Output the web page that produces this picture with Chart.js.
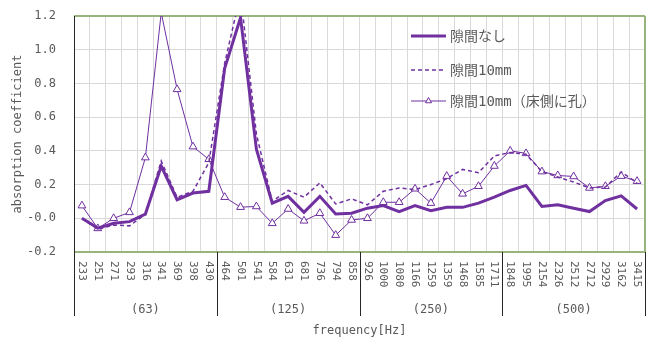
<!DOCTYPE html>
<html>
<head>
<meta charset="utf-8">
<script src="https://cdn.jsdelivr.net/npm/chart.js@4/dist/chart.umd.min.js"></script>
<style>
  body { margin: 0; background: #fff; }
  #wrap { width: 653px; height: 341px; position: relative; }
</style>
</head>
<body>
<div id="wrap"><canvas id="absChart"></canvas></div>
<script>
const freqs = ["233","251","271","293","316","341","369","398","430",
  "464","501","541","584","631","681","736","794","858",
  "926","1000","1080","1166","1259","1359","1468","1585","1711",
  "1848","1995","2154","2326","2512","2712","2929","3162","3415"];
const bands = ["(63)", "(125)", "(250)", "(500)"];
const seriesNames = ["隙間なし", "隙間10mm", "隙間10mm（床側に孔）"];

const noGap = [0.00,-0.058,-0.03,-0.02,0.025,0.31,0.11,0.15,0.16,
  0.89,1.19,0.41,0.09,0.13,0.035,0.13,0.025,0.03,
  0.06,0.075,0.04,0.075,0.045,0.065,0.065,0.09,0.125,
  0.165,0.195,0.07,0.08,0.06,0.04,0.105,0.133,0.055];
const gap10 = [0.00,-0.065,-0.04,-0.045,0.025,0.34,0.125,0.16,0.33,
  0.92,1.33,0.50,0.10,0.165,0.125,0.21,0.085,0.115,
  0.08,0.16,0.18,0.17,0.20,0.235,0.29,0.27,0.37,
  0.39,0.38,0.277,0.245,0.215,0.18,0.185,0.275,0.21];
const gap10Hole = [0.075,-0.06,0.0,0.035,0.36,1.22,0.765,0.425,0.35,
  0.125,0.066,0.07,-0.03,0.055,-0.015,0.03,-0.10,-0.01,
  0.0,0.095,0.095,0.175,0.09,0.25,0.145,0.19,0.31,
  0.40,0.385,0.277,0.254,0.248,0.18,0.19,0.25,0.22];

const purple = "#7030A0";
const textGrey = "#595959";
const mono = '"DejaVu Sans Mono", "Noto Sans CJK JP", monospace';

const frame = {
  id: "frame",
  beforeDatasetsDraw(chart) {
    const { ctx, chartArea: a } = chart;
    ctx.save();
    ctx.strokeStyle = "#98b47c";
    ctx.lineWidth = 2;
    ctx.beginPath();
    ctx.moveTo(a.left, a.top); ctx.lineTo(a.right, a.top);
    ctx.moveTo(a.left, a.bottom); ctx.lineTo(a.right, a.bottom);
    ctx.moveTo(a.right, a.top); ctx.lineTo(a.right, a.bottom);
    ctx.stroke();
    ctx.restore();
  },
  afterDraw(chart) {
    const { ctx, chartArea: a, scales: { x } } = chart;
    ctx.save();

    // group dividers + left axis
    const edges = [a.left];
    for (let g = 1; g < bands.length; g++) {
      edges.push((x.getPixelForValue(g * 9 - 1) + x.getPixelForValue(g * 9)) / 2);
    }
    edges.push(a.right);
    ctx.strokeStyle = "#262626";
    ctx.lineWidth = 1;
    ctx.beginPath();
    edges.forEach((ex, k) => {
      const px = Math.round(ex) + 0.5;
      ctx.moveTo(px, k === 0 ? a.top : a.bottom);
      ctx.lineTo(px, 316);
    });
    ctx.stroke();

    // rotated frequency labels
    ctx.fillStyle = textGrey;
    ctx.font = "11px " + mono;
    ctx.textAlign = "left";
    ctx.textBaseline = "middle";
    freqs.forEach((f, i) => {
      ctx.save();
      ctx.translate(x.getPixelForValue(i), 261);
      ctx.rotate(Math.PI / 2);
      ctx.fillText(f, 0, 0);
      ctx.restore();
    });

    // octave band labels
    ctx.font = "12px " + mono;
    ctx.textAlign = "center";
    bands.forEach((b, g) => {
      const cx = (edges[g] + edges[g + 1]) / 2;
      ctx.fillText(b, cx, 310);
    });
    ctx.fillText("frequency[Hz]", (a.left + a.right) / 2, 331);

    // legend inside the plot
    const rows = [36, 70, 101];
    chart.data.datasets.forEach((ds, i) => {
      const y = rows[i];
      ctx.strokeStyle = ds.borderColor;
      ctx.lineWidth = ds.borderWidth;
      ctx.setLineDash(ds.borderDash || []);
      ctx.beginPath();
      ctx.moveTo(411, y); ctx.lineTo(446, y);
      ctx.stroke();
      ctx.setLineDash([]);
      if (ds.pointRadius > 0) {
        ctx.fillStyle = ds.pointBackgroundColor;
        ctx.strokeStyle = ds.pointBorderColor;
        ctx.lineWidth = 1;
        Chart.helpers.drawPoint(ctx, { pointStyle: ds.pointStyle, radius: 3.5, borderWidth: 1, rotation: 0 }, 428.5, y);
      }
      ctx.fillStyle = textGrey;
      ctx.font = "14px " + mono;
      ctx.textAlign = "left";
      ctx.textBaseline = "middle";
      ctx.fillText(ds.label, 450, y + 1);
    });
    ctx.restore();
  }
};

new Chart(document.getElementById("absChart"), {
  type: "line",
  data: {
    labels: freqs,
    datasets: [{
      label: seriesNames[0],
      data: noGap,
      borderColor: purple,
      borderWidth: 3,
      pointRadius: 0,
      tension: 0
    }, {
      label: seriesNames[1],
      data: gap10,
      borderColor: purple,
      borderWidth: 1.5,
      borderDash: [4, 3],
      pointRadius: 0,
      tension: 0
    }, {
      label: seriesNames[2],
      data: gap10Hole,
      borderColor: purple,
      borderWidth: 1,
      pointStyle: "triangle",
      pointRadius: 4.5,
      pointBorderWidth: 1,
      pointBackgroundColor: "#fff",
      pointBorderColor: purple,
      tension: 0
    }]
  },
  options: {
    responsive: true,
    maintainAspectRatio: false,
    animation: false,
    layout: { padding: { top: 16, right: 8, left: 0, bottom: 0 } },
    plugins: { legend: { display: false }, tooltip: { enabled: false } },
    scales: {
      x: {
        offset: true,
        grid: { offset: true, color: "#d9d9d9", drawTicks: false },
        border: { display: false },
        ticks: { display: false },
        afterFit: s => { s.height = 89; }
      },
      y: {
        min: -0.2,
        max: 1.2,
        afterFit: s => { s.width = 74; s.paddingTop = 0; s.paddingBottom = 0; },
        grid: {
          drawTicks: false,
          color: c => c.tick.value === 0 ? "#7f7f7f" : "#d9d9d9",
          lineWidth: c => c.tick.value === 0 ? 1.5 : 1
        },
        border: { display: false },
        ticks: {
          stepSize: 0.2,
          padding: 18,
          color: textGrey,
          font: { family: mono, size: 12 },
          callback: v => v.toFixed(1)
        },
        title: {
          display: true,
          text: "absorption coefficient",
          color: textGrey,
          font: { family: mono, size: 12 },
          padding: { top: 11, bottom: 0 }
        }
      }
    }
  },
  plugins: [frame]
});
</script>
</body>
</html>
